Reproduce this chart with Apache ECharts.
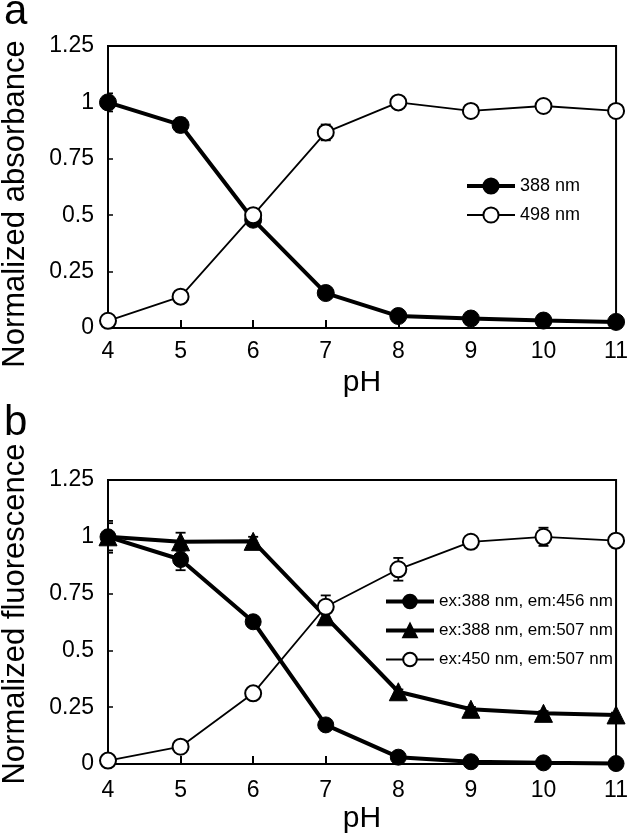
<!DOCTYPE html>
<html>
<head>
<meta charset="utf-8">
<script src="https://cdn.jsdelivr.net/npm/echarts@6/dist/echarts.min.js"></script>
<style>
html,body{margin:0;padding:0;background:#fff;}
#c{width:631px;height:838px;}
</style>
</head>
<body>
<div id="c"></div>
<script>
// ---- data ----
const pH = [4, 5, 6, 7, 8, 9, 10, 11];
const yTicks = [0, 0.25, 0.5, 0.75, 1, 1.25];
// panel a: normalized absorbance
const abs388 = [1.0, 0.90, 0.48, 0.155, 0.053, 0.042, 0.033, 0.027];
const abs388Err = [0.04, 0.03, 0.01, 0.01, 0.005, 0.005, 0.005, 0.005];
const abs498 = [0.032, 0.139, 0.50, 0.867, 1.0, 0.962, 0.984, 0.962];
const abs498Err = [0.005, 0.01, 0.01, 0.035, 0.01, 0.01, 0.01, 0.01];
// panel b: normalized fluorescence
const fl388_456 = [1.0, 0.90, 0.626, 0.172, 0.03, 0.01, 0.005, 0.002];
const fl388_456Err = [0.07, 0.047, 0.02, 0.01, 0.01, 0.005, 0.005, 0.005];
const fl388_507 = [1.0, 0.978, 0.98, 0.648, 0.318, 0.241, 0.223, 0.216];
const fl388_507Err = [0.06, 0.04, 0.02, 0.02, 0.01, 0.01, 0.01, 0.01];
const fl450_507 = [0.015, 0.076, 0.311, 0.692, 0.857, 0.978, 1.0, 0.983];
const fl450_507Err = [0.01, 0.01, 0.01, 0.05, 0.05, 0.025, 0.04, 0.03];

const names = {
  a1: '388 nm', a2: '498 nm',
  b1: 'ex:388 nm, em:456 nm', b2: 'ex:388 nm, em:507 nm', b3: 'ex:450 nm, em:507 nm'
};
const titles = { ya: 'Normalized absorbance', yb: 'Normalized fluorescence', x: 'pH', pa: 'a', pb: 'b' };

const FONT = "'Liberation Sans', Arial, sans-serif";

function pts(vals) { return pH.map((x, i) => [x, vals[i]]); }
function errData(vals, errs) { return pH.map((x, i) => [x, vals[i] - errs[i], vals[i] + errs[i]]); }

function errSeries(idx, vals, errs) {
  return {
    type: 'custom', xAxisIndex: idx, yAxisIndex: idx, z: 1, clip: true, silent: true,
    data: errData(vals, errs),
    renderItem: function (params, api) {
      const lo = api.coord([api.value(0), api.value(1)]);
      const hi = api.coord([api.value(0), api.value(2)]);
      const w = 5;
      const st = { stroke: '#000', lineWidth: 1.8 };
      return { type: 'group', children: [
        { type: 'line', shape: { x1: lo[0], y1: lo[1], x2: hi[0], y2: hi[1] }, style: st },
        { type: 'line', shape: { x1: lo[0] - w, y1: lo[1], x2: lo[0] + w, y2: lo[1] }, style: st },
        { type: 'line', shape: { x1: hi[0] - w, y1: hi[1], x2: hi[0] + w, y2: hi[1] }, style: st }
      ]};
    }
  };
}

function lineSeries(idx, name, vals, filled, symbol, size, lw) {
  return {
    type: 'line', name: name, xAxisIndex: idx, yAxisIndex: idx, z: 3,
    data: pts(vals), symbol: symbol, symbolSize: size, showSymbol: true,
    clip: false,
    lineStyle: { color: '#000', width: lw },
    itemStyle: filled ? { color: '#000', borderColor: '#000', borderWidth: 1 }
                      : { color: '#fff', borderColor: '#000', borderWidth: 2 },
    animation: false
  };
}

function xAx(idx, margin) {
  return {
    gridIndex: idx, type: 'value', min: 4, max: 11, interval: 1,
    name: titles.x, nameLocation: 'middle', nameGap: 40,
    nameTextStyle: { fontFamily: FONT, fontSize: 30, color: '#000' },
    axisLine: { lineStyle: { color: '#000', width: 2 } },
    axisTick: { inside: true, length: 8, lineStyle: { color: '#000', width: 2 } },
    axisLabel: { fontFamily: FONT, fontSize: 23, color: '#000', margin: margin },
    splitLine: { show: false }
  };
}
function yAx(idx) {
  return {
    gridIndex: idx, type: 'value', min: 0, max: 1.25, interval: 0.25,
    axisLine: { lineStyle: { color: '#000', width: 2 } },
    axisTick: { inside: true, length: 5, lineStyle: { color: '#000', width: 1.5 } },
    axisLabel: { fontFamily: FONT, fontSize: 23, color: '#000', margin: 14,
      formatter: v => String(yTicks.find(t => Math.abs(t - v) < 1e-9) ?? v) },
    splitLine: { show: false }
  };
}

function legItem(name, lw, filled) {
  return { name: name, lineStyle: { color: '#000', width: lw },
    itemStyle: filled ? { color: '#000', borderColor: '#000' } : { color: '#fff', borderColor: '#000', borderWidth: 2 } };
}

const chart = echarts.init(document.getElementById('c'), null, { renderer: 'canvas' });
chart.setOption({
  animation: false,
  backgroundColor: '#fff',
  grid: [
    { left: 108, top: 46, width: 512, height: 282, show: true, borderColor: '#000', borderWidth: 2 },
    { left: 108, top: 480, width: 511, height: 284, show: true, borderColor: '#000', borderWidth: 2 }
  ],
  xAxis: [xAx(0, 12), xAx(1, 15)],
  yAxis: [yAx(0), yAx(1)],
  legend: [
    { orient: 'vertical', left: 460, top: 172, itemWidth: 48, itemHeight: 19, itemGap: 11,
      data: [legItem(names.a1, 4, true), legItem(names.a2, 1.8, false)],
      textStyle: { fontFamily: FONT, fontSize: 18, color: '#000' } },
    { orient: 'vertical', left: 379, top: 588, itemWidth: 48, itemHeight: 17, itemGap: 12,
      data: [legItem(names.b1, 4, true), legItem(names.b2, 4, true), legItem(names.b3, 1.8, false)],
      textStyle: { fontFamily: FONT, fontSize: 17, color: '#000' } }
  ],
  graphic: [
    { type: 'text', left: 4, top: -9, style: { text: titles.pa, font: "42px " + FONT, fill: '#000' } },
    { type: 'text', left: 4, top: 402, style: { text: titles.pb, font: "42px " + FONT, fill: '#000' } },
    { type: 'text', x: 15, y: 204, rotation: Math.PI / 2,
      style: { text: titles.ya, font: "31px " + FONT, fill: '#000', align: 'center', verticalAlign: 'middle' } },
    { type: 'text', x: 15, y: 614, rotation: Math.PI / 2,
      style: { text: titles.yb, font: "31px " + FONT, fill: '#000', align: 'center', verticalAlign: 'middle' } }
  ],
  series: [
    errSeries(0, abs388, abs388Err),
    errSeries(0, abs498, abs498Err),
    lineSeries(0, names.a1, abs388, true, 'circle', 17, 4),
    lineSeries(0, names.a2, abs498, false, 'circle', 16, 1.8),
    errSeries(1, fl388_456, fl388_456Err),
    errSeries(1, fl388_507, fl388_507Err),
    errSeries(1, fl450_507, fl450_507Err),
    lineSeries(1, names.b1, fl388_456, true, 'circle', 16, 4),
    lineSeries(1, names.b2, fl388_507, true, 'triangle', 18, 4),
    lineSeries(1, names.b3, fl450_507, false, 'circle', 16, 1.8)
  ]
});
</script>
</body>
</html>
